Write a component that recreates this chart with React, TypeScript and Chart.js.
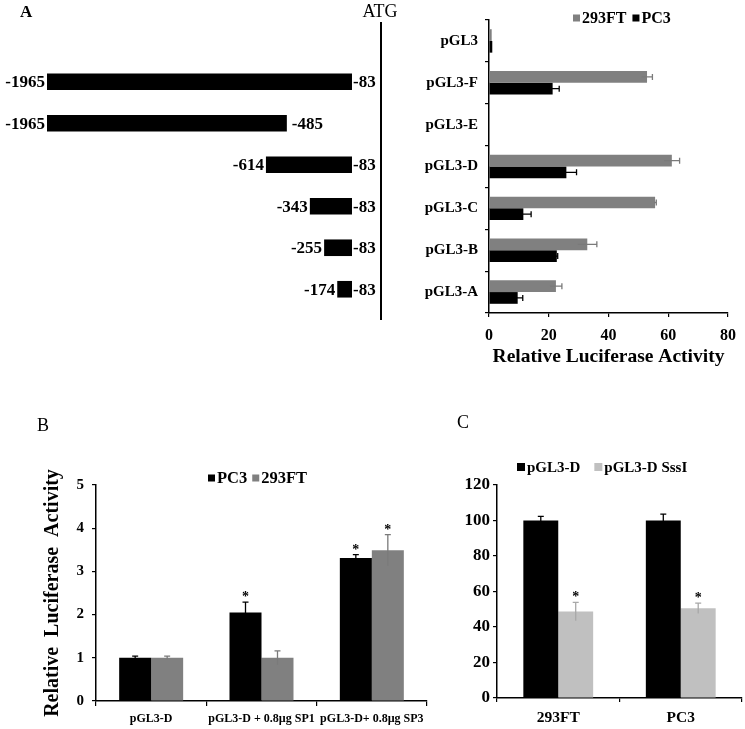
import React, { useEffect, useRef } from "react";
import { Chart, registerables } from "chart.js";

Chart.register(...registerables);

const SERIF = "'Liberation Serif', 'Times New Roman', serif";

// ---------- Panel A: promoter constructs ----------
const constructStarts = [-1965, -1965, -614, -343, -255, -174];
const constructEnds = [-83, -485, -83, -83, -83, -83];
const constructRows = ["F", "E", "D", "C", "B", "A"];
const constructAxisMin = -1965;
const constructAxisMax = 96; // ATG line position

// ---------- Panel A: luciferase activity ----------
const aCategories = ["pGL3", "pGL3-F", "pGL3-E", "pGL3-D", "pGL3-C", "pGL3-B", "pGL3-A"];
const a293FT = [0.9, 52.9, 0, 61.2, 55.6, 32.9, 22.4];
const a293FTErr = [0, 1.8, 0, 2.6, 0.4, 3.2, 2.0];
const aPC3 = [1.1, 21.3, 0, 25.9, 11.5, 22.7, 9.6];
const aPC3Err = [0, 2.2, 0, 3.4, 2.6, 0.3, 1.7];

// ---------- Panel B ----------
const bCategories = ["pGL3-D", "pGL3-D + 0.8µg SP1", "pGL3-D+ 0.8µg SP3"];
const bPC3 = [1.0, 2.05, 3.31];
const bPC3Err = [0.04, 0.24, 0.08];
const bPC3Sig = [false, true, true];
const b293FT = [1.0, 1.0, 3.49];
const b293FTErr = [0.04, 0.16, 0.36];
const b293FTSig = [false, false, true];

// ---------- Panel C ----------
const cCategories = ["293FT", "PC3"];
const cPGL3D = [100, 100];
const cPGL3DErr = [2.3, 3.6];
const cSssI = [48.7, 50.5];
const cSssIErr = [5.2, 2.9];
const cSssISig = [true, true];

const errorBarPlugin = {
  id: "errorBars",
  afterDatasetsDraw(chart: any) {
    const ctx = chart.ctx;
    const horizontal = chart.options.indexAxis === "y";
    const vScale = horizontal ? chart.scales.x : chart.scales.y;
    chart.data.datasets.forEach((ds: any, di: number) => {
      if (!ds.errors) return;
      const meta = chart.getDatasetMeta(di);
      meta.data.forEach((el: any, i: number) => {
        const v = ds.data[i];
        const e = ds.errors[i];
        const p1 = vScale.getPixelForValue(v + (e || 0));
        ctx.save();
        if (e) {
          const p0 = vScale.getPixelForValue(v - e);
          ctx.strokeStyle = ds.errorColor;
          ctx.lineWidth = 1.3;
          const cap = ds.capSize || 3;
          ctx.beginPath();
          if (horizontal) {
            ctx.moveTo(p0, el.y);
            ctx.lineTo(p1, el.y);
            ctx.moveTo(p1, el.y - cap);
            ctx.lineTo(p1, el.y + cap);
          } else {
            ctx.moveTo(el.x, p0);
            ctx.lineTo(el.x, p1);
            ctx.moveTo(el.x - cap, p1);
            ctx.lineTo(el.x + cap, p1);
          }
          ctx.stroke();
        }
        if (ds.sig && ds.sig[i]) {
          ctx.fillStyle = "#000";
          ctx.font = `bold 14px ${SERIF}`;
          ctx.textAlign = "center";
          ctx.textBaseline = "alphabetic";
          ctx.fillText("*", el.x, p1 - 1);
        }
        ctx.restore();
      });
    });
  },
};

const customLegendPlugin = {
  id: "customLegend",
  afterDraw(chart: any) {
    const opts = chart.options.plugins.customLegend;
    if (!opts) return;
    const ctx = chart.ctx;
    ctx.save();
    ctx.font = `bold ${opts.fontSize}px ${SERIF}`;
    ctx.textBaseline = "middle";
    ctx.textAlign = "left";
    let x = opts.x;
    chart.data.datasets.forEach((ds: any) => {
      ctx.fillStyle = ds.backgroundColor;
      ctx.fillRect(x, opts.y - opts.box / 2, opts.box, opts.box);
      x += opts.box + 2;
      ctx.fillStyle = "#000";
      ctx.fillText(ds.label, x, opts.y + 1);
      x += ctx.measureText(ds.label).width + opts.gap;
    });
    ctx.restore();
  },
};

const constructLabelPlugin = {
  id: "constructLabels",
  afterDatasetsDraw(chart: any) {
    const ctx = chart.ctx;
    const xs = chart.scales.x;
    const meta = chart.getDatasetMeta(0);
    const ds = chart.data.datasets[0];
    ctx.save();
    ctx.fillStyle = "#000";
    ctx.font = `bold 17px ${SERIF}`;
    ctx.textBaseline = "middle";
    meta.data.forEach((el: any, i: number) => {
      const [s, e] = ds.data[i];
      ctx.textAlign = "right";
      ctx.fillText(String(s), xs.getPixelForValue(s) - 2, el.y + 1);
      ctx.textAlign = "left";
      ctx.fillText(String(e), xs.getPixelForValue(e) + (e === -83 ? 1 : 5), el.y + 1);
    });
    // ATG line
    const ax = chart.chartArea.right;
    ctx.strokeStyle = "#000";
    ctx.lineWidth = 2;
    ctx.beginPath();
    ctx.moveTo(ax, 22);
    ctx.lineTo(ax, 320);
    ctx.stroke();
    ctx.font = `18px ${SERIF}`;
    ctx.textAlign = "center";
    ctx.fillText("ATG", ax - 1, 12);
    ctx.textAlign = "left";
    ctx.font = `bold 17px ${SERIF}`;
    ctx.fillText("A", 20, 13);
    ctx.restore();
  },
};

function useChart(ref: any, config: any) {
  useEffect(() => {
    const chart = new Chart(ref.current, config);
    return () => chart.destroy();
  }, []);
}

const tickFont = (size: number) => ({ family: SERIF, size, weight: "bold" as const });

function ConstructChart() {
  const ref = useRef<HTMLCanvasElement>(null);
  useChart(ref, {
    type: "bar",
    data: {
      labels: constructRows,
      datasets: [
        {
          data: constructStarts.map((s, i) => [s, constructEnds[i]]),
          backgroundColor: "#000",
          borderWidth: 0,
          barPercentage: 0.4,
          categoryPercentage: 1,
        },
      ],
    },
    options: {
      indexAxis: "y",
      animation: false,
      responsive: false,
      layout: { padding: { left: 47, right: 19, top: 61, bottom: 20 } },
      plugins: { legend: { display: false }, tooltip: { enabled: false } },
      scales: {
        x: { display: false, min: constructAxisMin, max: constructAxisMax },
        y: { display: false },
      },
    },
    plugins: [constructLabelPlugin],
  });
  return <canvas ref={ref} width={400} height={330} style={{ position: "absolute", left: 0, top: 0 }} />;
}

function ActivityChartA() {
  const ref = useRef<HTMLCanvasElement>(null);
  useChart(ref, {
    type: "bar",
    data: {
      labels: aCategories,
      datasets: [
        {
          label: "293FT",
          data: a293FT,
          errors: a293FTErr,
          errorColor: "#7a7a7a",
          backgroundColor: "#808080",
          barPercentage: 1,
          categoryPercentage: 0.56,
        },
        {
          label: "PC3",
          data: aPC3,
          errors: aPC3Err,
          errorColor: "#000",
          backgroundColor: "#000",
          barPercentage: 1,
          categoryPercentage: 0.56,
        },
      ],
    },
    options: {
      indexAxis: "y",
      animation: false,
      responsive: false,
      layout: { padding: { left: 0, right: 15, top: 20, bottom: 0 } },
      plugins: {
        legend: { display: false },
        tooltip: { enabled: false },
        customLegend: { x: 173, y: 18, box: 7, gap: 6, fontSize: 16 },
      },
      scales: {
        y: {
          afterFit: (s: any) => { s.width = 89; },
          grid: { drawOnChartArea: false, tickLength: 4, color: "#000", lineWidth: 1.2, offset: true },
          border: { color: "#000", width: 1.5 },
          ticks: { color: "#000", font: tickFont(15), padding: 7 },
        },
        x: {
          min: 0,
          max: 80,
          afterFit: (s: any) => { s.height = 67; },
          grid: { drawOnChartArea: false, tickLength: 4, color: "#000", lineWidth: 1.2 },
          border: { color: "#000", width: 1.5 },
          ticks: { color: "#000", font: tickFont(16), padding: 9, stepSize: 20 },
          title: {
            display: true,
            text: "Relative Luciferase Activity",
            color: "#000",
            font: { family: SERIF, size: 19.5, weight: "bold" },
            padding: { top: 0, bottom: 11 },
          },
        },
      },
    },
    plugins: [errorBarPlugin, customLegendPlugin],
  });
  return <canvas ref={ref} width={345} height={380} style={{ position: "absolute", left: 400, top: 0 }} />;
}

function ChartB() {
  const ref = useRef<HTMLCanvasElement>(null);
  useChart(ref, {
    type: "bar",
    data: {
      labels: bCategories,
      datasets: [
        {
          label: "PC3",
          data: bPC3,
          errors: bPC3Err,
          sig: bPC3Sig,
          errorColor: "#000",
          backgroundColor: "#000",
          barPercentage: 1,
          categoryPercentage: 0.58,
        },
        {
          label: "293FT",
          data: b293FT,
          errors: b293FTErr,
          sig: b293FTSig,
          errorColor: "#7a7a7a",
          backgroundColor: "#808080",
          barPercentage: 1,
          categoryPercentage: 0.58,
        },
      ],
    },
    options: {
      animation: false,
      responsive: false,
      layout: { padding: { left: 0, right: 13, top: 105, bottom: 0 } },
      plugins: {
        legend: { display: false },
        tooltip: { enabled: false },
        customLegend: { x: 208, y: 98, box: 7, gap: 5, fontSize: 16.5 },
      },
      scales: {
        x: {
          afterFit: (s: any) => { s.height = 28; },
          grid: { drawOnChartArea: false, tickLength: 5, color: "#000", lineWidth: 1.2, offset: true },
          border: { color: "#000", width: 1.5 },
          ticks: { color: "#000", font: tickFont(12), padding: 6, maxRotation: 0, autoSkip: false },
        },
        y: {
          min: 0,
          max: 5,
          afterFit: (s: any) => { s.width = 96; },
          grid: { drawOnChartArea: false, tickLength: 4, color: "#000", lineWidth: 1.2 },
          border: { color: "#000", width: 1.5 },
          ticks: { color: "#000", font: tickFont(15), padding: 8, stepSize: 1 },
          title: {
            display: true,
            text: "Relative  Luciferase  Activity",
            color: "#000",
            font: { family: SERIF, size: 20, weight: "bold" },
            padding: { top: 41, bottom: 0 },
          },
        },
      },
    },
    plugins: [errorBarPlugin, customLegendPlugin],
  });
  return <canvas ref={ref} width={440} height={349} style={{ position: "absolute", left: 0, top: 380 }} />;
}

function ChartC() {
  const ref = useRef<HTMLCanvasElement>(null);
  useChart(ref, {
    type: "bar",
    data: {
      labels: cCategories,
      datasets: [
        {
          label: "pGL3-D",
          data: cPGL3D,
          errors: cPGL3DErr,
          errorColor: "#000",
          backgroundColor: "#000",
          barPercentage: 1,
          categoryPercentage: 0.57,
        },
        {
          label: "pGL3-D SssI",
          data: cSssI,
          errors: cSssIErr,
          sig: cSssISig,
          errorColor: "#a8a8a8",
          backgroundColor: "#c0c0c0",
          barPercentage: 1,
          categoryPercentage: 0.57,
        },
      ],
    },
    options: {
      animation: false,
      responsive: false,
      layout: { padding: { left: 0, right: 3, top: 105, bottom: 0 } },
      plugins: {
        legend: { display: false },
        tooltip: { enabled: false },
        customLegend: { x: 77, y: 87, box: 8, gap: 14, fontSize: 15 },
      },
      scales: {
        x: {
          afterFit: (s: any) => { s.height = 31; },
          grid: { drawOnChartArea: false, tickLength: 4, color: "#000", lineWidth: 1.2, offset: true },
          border: { color: "#000", width: 1.5 },
          ticks: { color: "#000", font: tickFont(15.5), padding: 7 },
        },
        y: {
          min: 0,
          max: 120,
          afterFit: (s: any) => { s.width = 57; },
          grid: { drawOnChartArea: false, tickLength: 4, color: "#000", lineWidth: 1.2 },
          border: { color: "#000", width: 1.5 },
          ticks: { color: "#000", font: tickFont(17), padding: 3, stepSize: 20 },
        },
      },
    },
    plugins: [errorBarPlugin, customLegendPlugin],
  });
  return <canvas ref={ref} width={305} height={349} style={{ position: "absolute", left: 440, top: 380 }} />;
}

const letterStyle: React.CSSProperties = {
  position: "absolute",
  fontFamily: SERIF,
  fontSize: 18,
  lineHeight: "18px",
  color: "#000",
};

export default function App() {
  return (
    <div style={{ position: "absolute", left: 0, top: 0, width: 745, height: 729, background: "#fff", overflow: "hidden" }}>
      <ConstructChart />
      <ActivityChartA />
      <ChartB />
      <ChartC />
      <div style={{ ...letterStyle, left: 37, top: 416 }}>B</div>
      <div style={{ ...letterStyle, left: 457, top: 413 }}>C</div>
    </div>
  );
}
